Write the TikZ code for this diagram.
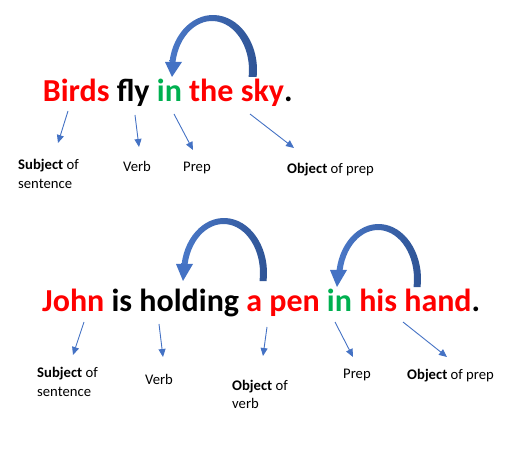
\documentclass[tikz,border=0pt]{standalone}
\usepackage{fontspec}
\setmainfont{Carlito}
\usetikzlibrary{arrows.meta}
\definecolor{wred}{HTML}{FF0000}
\definecolor{wgreen}{HTML}{00B050}
\definecolor{wblue}{HTML}{4472C4}
\definecolor{arcL}{HTML}{4A78C8}
\definecolor{arcR}{HTML}{2E5394}
\tikzset{
  sent/.style={anchor=base west,inner sep=0pt,font=\fontsize{32}{38}\selectfont\bfseries},
  lbl/.style={anchor=base west,inner sep=0pt,font=\fontsize{14.67}{18}\selectfont},
  ptr/.style={draw=wblue,line width=0.9pt,-{Triangle[length=8pt,width=7pt]}},
  bigarc/.style={left color=arcL,right color=arcR,draw=none},
  bighead/.style={fill=wblue,draw=none},
}
\begin{document}
\begin{tikzpicture}[x=1pt,y=1pt]
\useasboundingbox (0,0) rectangle (511,463);
% sentence 1
\node[sent] (s1) at (42.6,361) {\textcolor{wred}{Birds} fly \textcolor{wgreen}{in} \textcolor{wred}{the sky}.};
% arc 1
\shade[bigarc] (213,393) ++(-7.3:44pt and 55pt) arc[start angle=-7.3,end angle=171.6,x radius=44pt,y radius=55pt]
  -- ([shift={(212,393)}]170.6:37pt and 49pt) arc[start angle=170.6,end angle=-8.2,x radius=37pt,y radius=49pt] -- cycle;
\fill[bighead] (165,401) -- (182,401) -- (172,386) -- cycle;
% pointers 1
\coordinate (a1s) at (68,352); \coordinate (a1e) at (58,320);
\coordinate (a2s) at (135,348); \coordinate (a2e) at (139,316);
\coordinate (a3s) at (174,349); \coordinate (a3e) at (193,313);
\coordinate (a4s) at (250,349); \coordinate (a4e) at (294,315);
\draw[ptr] (a1s) -- (a1e);
\draw[ptr] (a2s) -- (a2e);
\draw[ptr] (a3s) -- (a3e);
\draw[ptr] (a4s) -- (a4e);
% labels 1
\node[lbl] (l1a) at (18,293) {\textbf{Subject} of};
\node[lbl] (l1b) at (18,274) {sentence};
\node[lbl] (l1c) at (123,291) {Verb};
\node[lbl] (l1d) at (183,291) {Prep};
\node[lbl] (l1e) at (287,289) {\textbf{Object} of prep};
% sentence 2
\node[sent] (s2) at (42,151) {\textcolor{wred}{John} is holding \textcolor{wred}{a pen} \textcolor{wgreen}{in} \textcolor{wred}{his hand}.};
% arc 2a
\shade[bigarc] (224,190) ++(-8.4:43pt and 55pt) arc[start angle=-8.4,end angle=170.6,x radius=43pt,y radius=55pt]
  -- ([shift={(223.5,190)}]169.4:36.5pt and 49pt) arc[start angle=169.4,end angle=-9.4,x radius=36.5pt,y radius=49pt] -- cycle;
\fill[bighead] (176,199) -- (193,199) -- (183,182) -- cycle;
% arc 2b
\shade[bigarc] (378.5,184) ++(-8.4:42.5pt and 55pt) arc[start angle=-8.4,end angle=170.6,x radius=42.5pt,y radius=55pt]
  -- ([shift={(378,184)}]169.4:36pt and 49pt) arc[start angle=169.4,end angle=-9.4,x radius=36pt,y radius=49pt] -- cycle;
\fill[bighead] (330,193) -- (347,193) -- (337,176) -- cycle;
% pointers 2
\coordinate (b1s) at (84,141); \coordinate (b1e) at (73,108);
\coordinate (b2s) at (159,139); \coordinate (b2e) at (163,106);
\coordinate (b3s) at (267,136); \coordinate (b3e) at (263,107);
\coordinate (b4s) at (335,141); \coordinate (b4e) at (353,106);
\coordinate (b5s) at (403,141); \coordinate (b5e) at (447,106);
\draw[ptr] (b1s) -- (b1e);
\draw[ptr] (b2s) -- (b2e);
\draw[ptr] (b3s) -- (b3e);
\draw[ptr] (b4s) -- (b4e);
\draw[ptr] (b5s) -- (b5e);
% labels 2
\node[lbl] (l2a) at (37,85) {\textbf{Subject} of};
\node[lbl] (l2b) at (37,66) {sentence};
\node[lbl] (l2c) at (145,78) {Verb};
\node[lbl] (l2d) at (232,72) {\textbf{Object} of};
\node[lbl] (l2e) at (232,54) {verb};
\node[lbl] (l2f) at (343,84) {Prep};
\node[lbl] (l2g) at (407,83) {\textbf{Object} of prep};
\end{tikzpicture}
\end{document}
